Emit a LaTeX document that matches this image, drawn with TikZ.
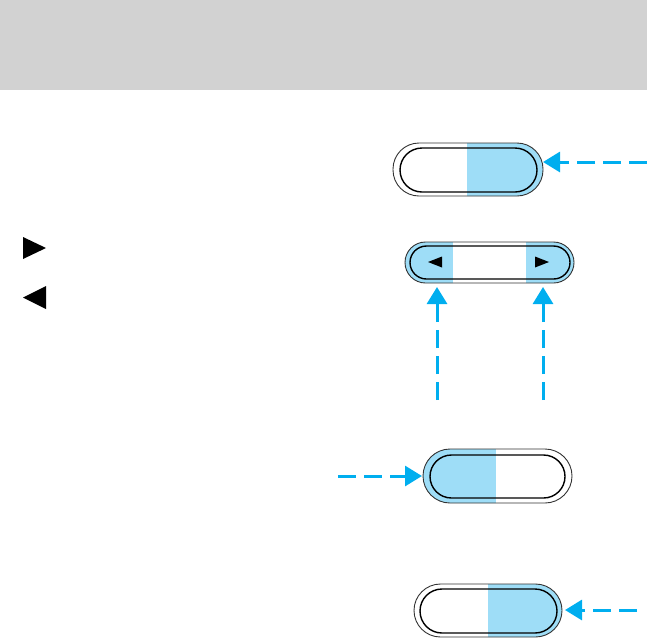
\documentclass[tikz,border=0pt]{standalone}
\usetikzlibrary{arrows.meta}
\definecolor{hdrgray}{HTML}{D2D2D2}
\definecolor{btnblue}{HTML}{9EDDF7}
\definecolor{arrcyan}{HTML}{00AEEF}
\tikzset{
  outerline/.style={draw=black!80, line width=0.9pt},
  innerline/.style={draw=black, line width=1.4pt},
  callout/.style={draw=arrcyan, line width=3pt, dash pattern=on 18pt off 8pt,
    -{Triangle[length=17pt,width=20pt]}},
  tri/.style={fill=black}
}
\begin{document}
\begin{tikzpicture}[x=1pt,y=-1pt]
\useasboundingbox (0,0) rectangle (647,638);
\fill[hdrgray] (0,0) rectangle (647,90);

% left side symbols
\fill[tri] (23,237) -- (46,248) -- (23,259) -- cycle;
\fill[tri] (46,286) -- (23,297.5) -- (46,309) -- cycle;

% button 1
\begin{scope}
  \clip[rounded corners=26pt] (393,143) rectangle (543,196);
  \fill[btnblue] (467,140) rectangle (546,200);
\end{scope}
\draw[outerline, rounded corners=26pt] (393,143) rectangle (543,196);
\draw[innerline, rounded corners=22pt] (400,148) rectangle (537,192);
\coordinate (b1) at (543,162);
\coordinate (s1) at (647,162);

% button 2
\begin{scope}
  \clip[rounded corners=20.5pt] (405,242) rectangle (574,283);
  \fill[btnblue] (402,240) rectangle (453,286);
  \fill[btnblue] (526,240) rectangle (577,286);
\end{scope}
\draw[outerline, rounded corners=20.5pt] (405,242) rectangle (574,283);
\draw[innerline, rounded corners=16.5pt] (410,246) rectangle (570,279);
\fill[tri] (428,262) -- (442,256.5) -- (442,267.5) -- cycle;
\fill[tri] (549,262) -- (535,256.5) -- (535,267.5) -- cycle;
\coordinate (b2l) at (437,287);
\coordinate (b2r) at (543,287);
\coordinate (s2l) at (437,400);
\coordinate (s2r) at (543,400);

% button 3
\begin{scope}
  \clip[rounded corners=27pt] (423,449) rectangle (572,503);
  \fill[btnblue] (420,446) rectangle (496,506);
\end{scope}
\draw[outerline, rounded corners=27pt] (423,449) rectangle (572,503);
\draw[innerline, rounded corners=21.5pt] (430,455) rectangle (565,498);
\coordinate (b3) at (422,476);
\coordinate (s3) at (338,476);

% button 4
\begin{scope}
  \clip[rounded corners=26.5pt] (414,584) rectangle (562,637);
  \fill[btnblue] (488,580) rectangle (565,640);
\end{scope}
\draw[outerline, rounded corners=26.5pt] (414,584) rectangle (562,637);
\draw[innerline, rounded corners=22pt] (420,589) rectangle (557,633);
\coordinate (b4) at (565,610);
\coordinate (s4) at (637,610);

% callout arrows
\draw[callout] (s1) -- (b1);
\draw[callout] (s2l) -- (b2l);
\draw[callout] (s2r) -- (b2r);
\draw[callout] (s3) -- (b3);
\draw[callout] (s4) -- (b4);
\end{tikzpicture}
\end{document}
